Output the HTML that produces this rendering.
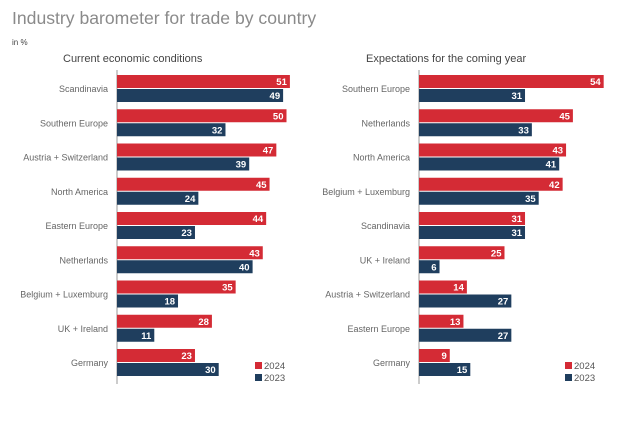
<!DOCTYPE html>
<html><head><meta charset="utf-8"><style>
body{margin:0;background:#fff;font-family:"Liberation Sans",sans-serif}
svg text{font-family:"Liberation Sans",sans-serif}
</style></head><body>
<svg width="632" height="421">
<text x="12" y="24" font-size="17.6" fill="#8a8a8a">Industry barometer for trade by country</text>
<text x="12" y="45" font-size="8" fill="#444">in %</text>
<text x="63" y="62" font-size="11" fill="#444">Current economic conditions</text>
<text x="366" y="62" font-size="11" fill="#444">Expectations for the coming year</text>
<g id="left"></g><g id="right"></g>
</svg>
<script>
const leftCats=["Scandinavia","Southern Europe","Austria + Switzerland","North America","Eastern Europe","Netherlands","Belgium + Luxemburg","UK + Ireland","Germany"];
const left2024=[51,50,47,45,44,43,35,28,23];
const left2023=[49,32,39,24,23,40,18,11,30];
const rightCats=["Southern Europe","Netherlands","North America","Belgium + Luxemburg","Scandinavia","UK + Ireland","Austria + Switzerland","Eastern Europe","Germany"];
const right2024=[54,45,43,42,31,25,14,13,9];
const right2023=[31,33,41,35,31,6,27,27,15];
const seriesNames=["2024","2023"];
const NS="http://www.w3.org/2000/svg";
function mk(tag,attrs,parent){const e=document.createElementNS(NS,tag);for(const k in attrs)e.setAttribute(k,attrs[k]);parent.appendChild(e);return e;}
function panel(g,x0,scale,cats,a,b,legX,pfx){
  const y=i=>75+i*34.25;
  const xs=v=>v*scale;
  const ax=mk('line',{x1:x0,x2:x0,y1:70,y2:384,stroke:'#999','stroke-width':1},g);
  
  
  cats.forEach((c,i)=>{
    const t=mk('text',{x:x0-9,y:y(i)+17,'text-anchor':'end','font-size':9,fill:'#666'},g);t.textContent=c;
    
    
    [[a[i],'#d42b35',0],[b[i],'#1f3e5e',14]].forEach(([v,col,off],s)=>{
      const r=mk('rect',{x:x0,y:y(i)+off,width:xs(v),height:13,fill:col},g);
      
      
      const l=mk('text',{x:x0+xs(v)-3,y:y(i)+off+10,'text-anchor':'end','font-size':9.5,'font-weight':'bold',fill:'#fff'},g);l.textContent=v;
      
      
    });
  });
  seriesNames.forEach((n,s)=>{
    const r=mk('rect',{x:legX,y:362+s*12,width:7,height:7,fill:s?'#1f3e5e':'#d42b35'},g);
    
    
    const t=mk('text',{x:legX+9,y:369+s*12,'font-size':9.5,fill:'#555'},g);t.textContent=n;
    
    
  });
}
panel(document.getElementById('left'),117,3.39,leftCats,left2024,left2023,255,'left');
panel(document.getElementById('right'),419,3.42,rightCats,right2024,right2023,565,'right');
</script>
</body></html>
